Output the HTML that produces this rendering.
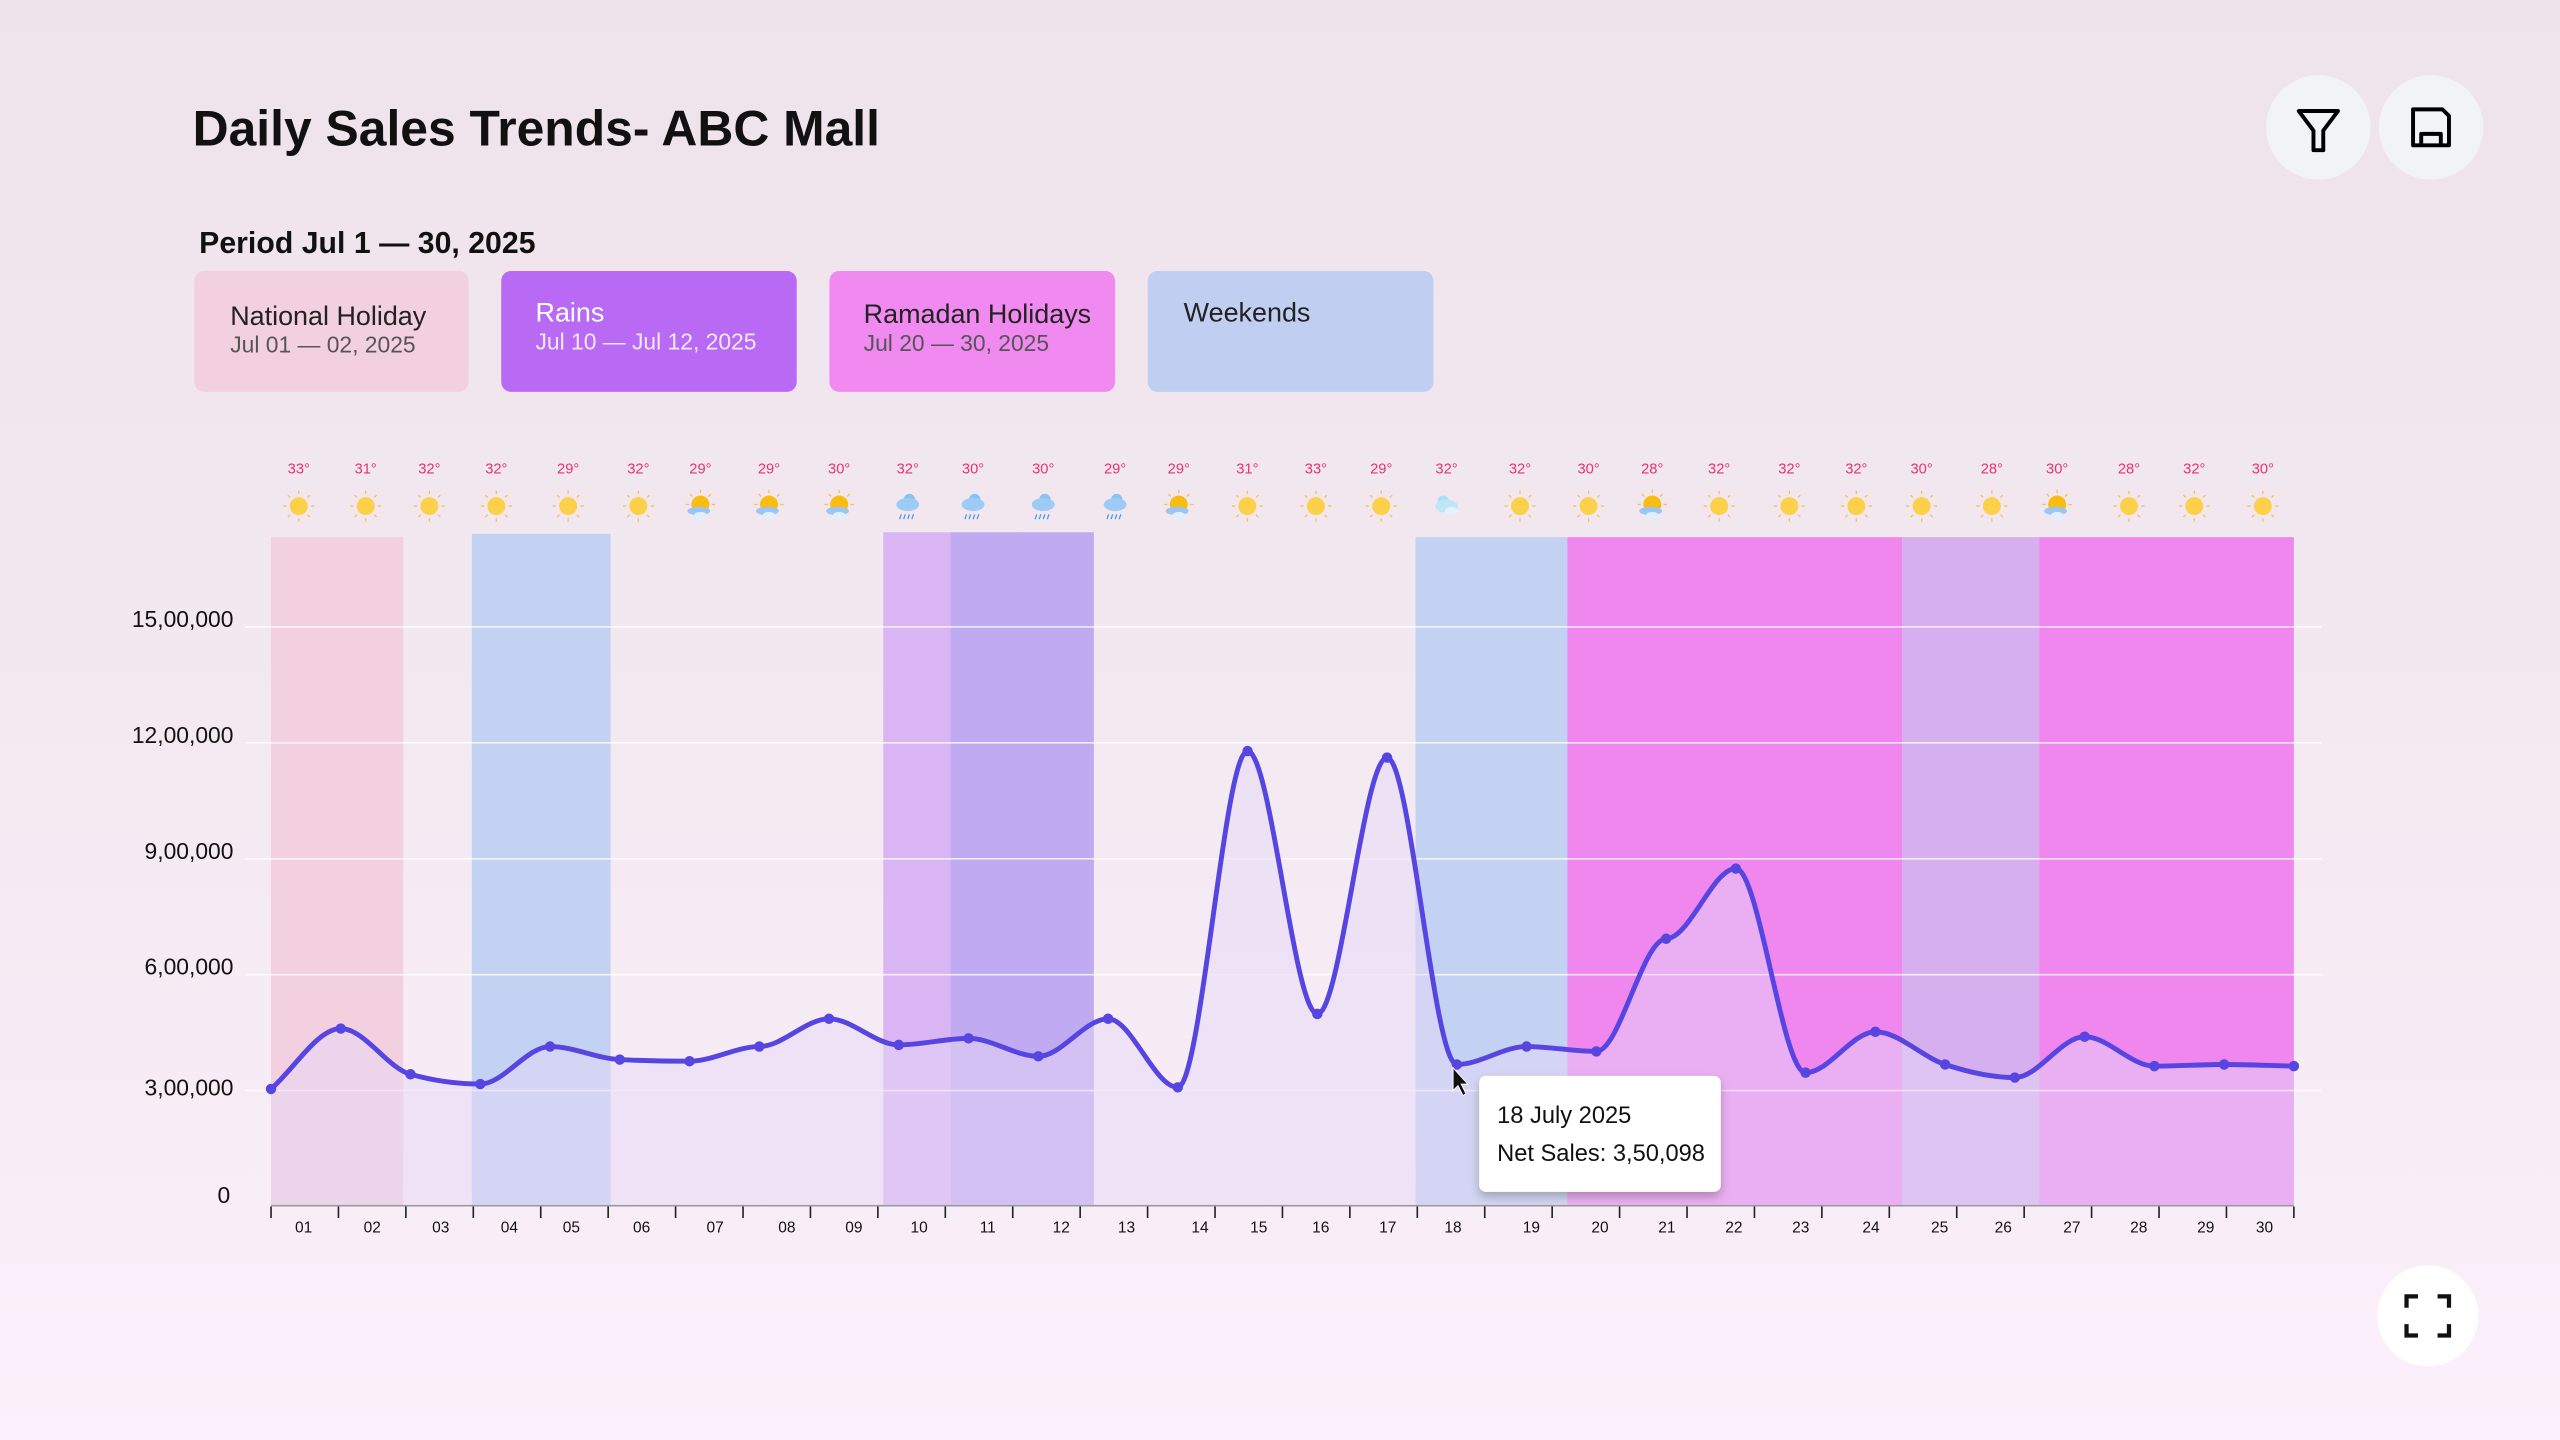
<!DOCTYPE html>
<html><head><meta charset="utf-8"><style>
html,body{margin:0;padding:0;width:2560px;height:1440px;overflow:hidden}
body{background:linear-gradient(180deg,#eee3ea 0%,#f3e9f1 50%,#fbf0fb 100%)}
svg{display:block}
text{font-family:"Liberation Sans",sans-serif}
</style></head><body>
<svg id="s" width="2560" height="1440" viewBox="0 0 1568 882" xmlns="http://www.w3.org/2000/svg">
<defs>
<filter id="sh" x="-20%" y="-20%" width="140%" height="150%"><feDropShadow dx="0" dy="3" stdDeviation="3" flood-color="#000" flood-opacity="0.25"/></filter>
</defs>
<text x="118" y="89" font-size="30.5" font-weight="600" fill="#111" textLength="421">Daily Sales Trends- ABC Mall</text>
<circle cx="1420" cy="78" r="32" fill="#f2f3f5"/>
<circle cx="1489" cy="78" r="32" fill="#f2f3f5"/>
<path d="M1408 68 H1432 L1423 80 V92 H1417 V80 Z" fill="none" stroke="#000" stroke-width="2.4" stroke-linejoin="round"/>
<path d="M1478 67 H1496 L1500 71 V89 H1478 Z M1483 89 V82 H1495 V89" fill="none" stroke="#000" stroke-width="2.4" stroke-linejoin="round"/>
<rect x="1456" y="775" width="62" height="62" rx="31" fill="#fff"/>
<path d="M1474 801 V794 H1481 M1493 794 H1500 V801 M1500 811 V818 H1493 M1481 818 H1474 V811" fill="none" stroke="#111" stroke-width="2.6"/>
<text x="122" y="155" font-size="18.5" font-weight="600" fill="#111" textLength="206">Period Jul 1 — 30, 2025</text>
<rect x="119" y="166" width="168" height="74" rx="6" fill="#f3d0df"/>
<text x="141" y="199" font-size="16.5" fill="#222">National Holiday</text>
<text x="141" y="216" font-size="14" fill="#555">Jul 01 — 02, 2025</text>
<rect x="307" y="166" width="181" height="74" rx="6" fill="#b96af5"/>
<text x="328" y="197" font-size="16.5" fill="#fff">Rains</text>
<text x="328" y="214" font-size="14" fill="#f3e8ff">Jul 10 — Jul 12, 2025</text>
<rect x="508" y="166" width="175" height="74" rx="6" fill="#f08af0"/>
<text x="529" y="198" font-size="16.5" fill="#222">Ramadan Holidays</text>
<text x="529" y="215" font-size="14" fill="#555">Jul 20 — 30, 2025</text>
<rect x="703" y="166" width="175" height="74" rx="6" fill="#c0cef2"/>
<text x="725" y="197" font-size="16.5" fill="#222">Weekends</text>
<g id="bands">
<rect x="166" y="329" width="81" height="409" fill="#f3d0df"/>
<rect x="289" y="327" width="85" height="411" fill="#c3d2f2"/>
<rect x="541" y="326" width="41" height="412" fill="#dab5f4"/>
<rect x="582" y="326" width="88" height="412" fill="#c0abf3"/>
<rect x="867" y="329" width="93" height="409" fill="#c3d2f2"/>
<rect x="960" y="329" width="205" height="409" fill="#ef87ee"/>
<rect x="1165" y="329" width="84" height="409" fill="#d6b0ee"/>
<rect x="1249" y="329" width="156" height="409" fill="#ef87ee"/>
</g>
<g id="grid" stroke="#fff" stroke-opacity="0.75" stroke-width="1">
<line x1="150" x2="1422" y1="384" y2="384"/><line x1="150" x2="1422" y1="455" y2="455"/>
<line x1="150" x2="1422" y1="526" y2="526"/><line x1="150" x2="1422" y1="597" y2="597"/>
<line x1="150" x2="1422" y1="668" y2="668"/>
</g>
<g font-size="14" fill="#111" text-anchor="end">
<text x="143" y="384">15,00,000</text><text x="143" y="455">12,00,000</text>
<text x="143" y="526">9,00,000</text><text x="143" y="597">6,00,000</text>
<text x="143" y="671">3,00,000</text><text x="141" y="737">0</text>
</g>
<line x1="166" x2="1405" y1="738.5" y2="738.5" stroke="#999" stroke-width="1"/>
<g id="dyn"></g>
<g filter="url(#sh)"><rect x="906" y="659" width="148" height="71" rx="4" fill="#fff"/></g>
<text x="917" y="688" font-size="14.5" fill="#111">18 July 2025</text>
<text x="917" y="711" font-size="14.5" fill="#111">Net Sales: 3,50,098</text>
<path d="M890 654 L890 668 L893 665 L896 671 L898 670 L895 664 L899 664 Z" fill="#111" stroke="#fff" stroke-width="0.6"/>
</svg>
<script>
var ys=[667,630,658,664,641,649,650,641,624,640,636,647,624,666,460,621,464,652,641,644,575,532,657,632,652,660,635,653,652,653];
var n=ys.length,hx=1239/29;
var pts=ys.map(function(y,i){return [166+i*hx,y];});
// monotone X tangents
var sl=[];for(var i=0;i<n-1;i++)sl.push((ys[i+1]-ys[i])/hx);
var m=[];
for(var i=0;i<n;i++){
 if(i==0)m.push(sl[0]);else if(i==n-1)m.push(sl[n-2]);
 else{var a=sl[i-1],b=sl[i];if(a*b<=0)m.push(0);else{var p=(a+b)/2;m.push((a>0?1:-1)*Math.min(Math.abs(a),Math.abs(b),Math.abs(p))*((Math.abs(p)>Math.min(Math.abs(a),Math.abs(b))*2)?2:1)>0?Math.sign(a)*Math.min(2*Math.abs(a),2*Math.abs(b),Math.abs(p)):0);}}
}
var d="M"+pts[0][0]+" "+pts[0][1];
for(var i=0;i<n-1;i++){
 var x0=pts[i][0],x1=pts[i+1][0],dx=(x1-x0)/3;
 d+=" C"+(x0+dx).toFixed(1)+" "+(ys[i]+m[i]*dx).toFixed(1)+" "+(x1-dx).toFixed(1)+" "+(ys[i+1]-m[i+1]*dx).toFixed(1)+" "+x1.toFixed(1)+" "+ys[i+1];
}
var h='';
h+='<path d="'+d+' L1405 738 L166 738 Z" fill="#e6d8f5" fill-opacity="0.5"/>';
h+='<path d="'+d+'" fill="none" stroke="#5645e0" stroke-width="3"/>';
pts.forEach(function(p){h+='<circle cx="'+p[0]+'" cy="'+p[1]+'" r="3.2" fill="#5645e0"/>';});
var lx=[186,228,270,312,350,393,438,482,523,563,605,650,690,735,771,809,850,890,938,980,1021,1062,1103,1146,1188,1227,1269,1310,1351,1387];
for(var i=0;i<=30;i++){var x=166+i*(1239/30);h+='<line x1="'+x.toFixed(1)+'" x2="'+x.toFixed(1)+'" y1="739" y2="746" stroke="#222" stroke-width="1"/>';}
lx.forEach(function(x,i){var t=(i+1<10?'0':'')+(i+1);h+='<text x="'+x+'" y="755" font-size="9.5" fill="#111" text-anchor="middle">'+t+'</text>';});
var tx=[183,224,263,304,348,391,429,471,514,556,596,639,683,722,764,806,846,886,931,973,1012,1053,1096,1137,1177,1220,1260,1304,1344,1386];
var tmp=[33,31,32,32,29,32,29,29,30,32,30,30,29,29,31,33,29,32,32,30,28,32,32,32,30,28,30,28,32,30];
var ic=['s','s','s','s','s','s','p','p','p','r','r','r','r','p','s','s','s','c','s','s','p','s','s','s','s','s','p','s','s','s'];
tx.forEach(function(x,i){
 h+='<text x="'+x+'" y="290" font-size="9" fill="#e8336f" text-anchor="middle">'+tmp[i]+'°</text>';
 var cy=310,t=ic[i];
 if(t=='s'){
  for(var k=0;k<8;k++){var a=k*Math.PI/4;h+='<line x1="'+(x+Math.cos(a)*7.5).toFixed(1)+'" y1="'+(cy+Math.sin(a)*7.5).toFixed(1)+'" x2="'+(x+Math.cos(a)*9.5).toFixed(1)+'" y2="'+(cy+Math.sin(a)*9.5).toFixed(1)+'" stroke="#f3c24a" stroke-width="0.8"/>';}
  h+='<circle cx="'+x+'" cy="'+cy+'" r="5.5" fill="#fdd04a"/>';
 } else if(t=='p'){
  for(var k=4;k<9;k++){var a=k*Math.PI/4;h+='<line x1="'+(x+Math.cos(a)*7).toFixed(1)+'" y1="'+(cy-1+Math.sin(a)*7).toFixed(1)+'" x2="'+(x+Math.cos(a)*9).toFixed(1)+'" y2="'+(cy-1+Math.sin(a)*9).toFixed(1)+'" stroke="#f3c24a" stroke-width="0.8"/>';}
  h+='<circle cx="'+x+'" cy="'+(cy-1)+'" r="5.5" fill="#f8bd10"/>';
  h+='<ellipse cx="'+(x-1)+'" cy="'+(cy+3)+'" rx="7" ry="2.6" fill="#9cc4f5"/><ellipse cx="'+(x)+'" cy="'+(cy+6)+'" rx="4" ry="2.5" fill="#e2eefc"/>';
 } else if(t=='r'){
  h+='<circle cx="'+(x+1)+'" cy="'+(cy-4)+'" r="3.5" fill="#8ac2f3"/><ellipse cx="'+x+'" cy="'+(cy-1)+'" rx="7" ry="4" fill="#9ccbf5"/>';
  for(var k=0;k<4;k++)h+='<line x1="'+(x-4+k*2.5)+'" y1="'+(cy+5)+'" x2="'+(x-5+k*2.5)+'" y2="'+(cy+8)+'" stroke="#4a9be8" stroke-width="0.8"/>';
 } else {
  h+='<circle cx="'+(x-2)+'" cy="'+(cy-3)+'" r="3.5" fill="#a9e0f7"/><ellipse cx="'+x+'" cy="'+(cy)+'" rx="7" ry="4" fill="#bfe6f8"/><ellipse cx="'+(x+3)+'" cy="'+(cy+3)+'" rx="4" ry="2.5" fill="#e4f2fb"/>';
 }
});
document.getElementById('dyn').innerHTML=h;
</script>
</body></html>
